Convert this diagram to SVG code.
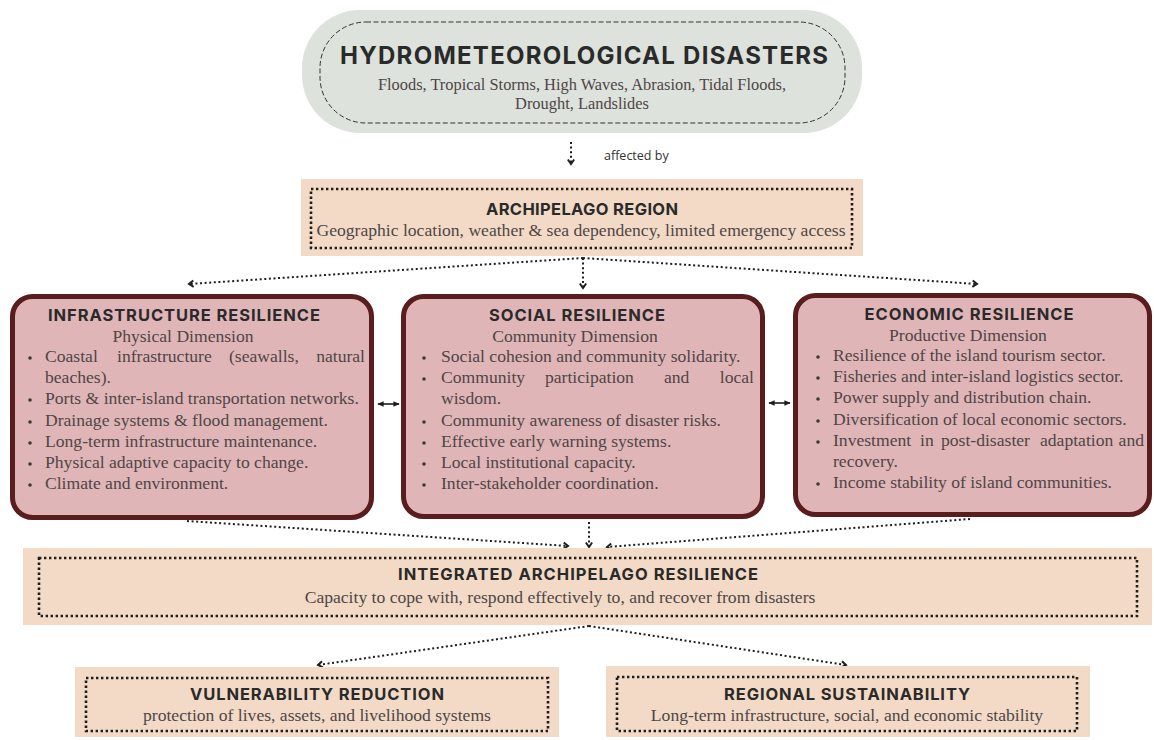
<svg xmlns="http://www.w3.org/2000/svg" width="1154" height="740" viewBox="0 0 1154 740">
<defs>
<style>
.h{font-family:Inter,"Open Sans","Liberation Sans",sans-serif;font-weight:700;fill:#2a2a2a;text-anchor:middle;font-size:16.5px}
.s{font-family:"Liberation Serif","DejaVu Serif",serif;fill:#4e4646;font-size:17.6px}
.c{text-anchor:middle}
.e{text-anchor:end}
.peach{fill:#f2dac6}
.dotb{fill:none;stroke:#1e1e1e;stroke-width:2.6;stroke-dasharray:2.4 2.6}
.res{fill:#e0b5b7;stroke:#5a1d1d;stroke-width:5}
.dl{fill:none;stroke:#1e1e1e;stroke-width:2;stroke-dasharray:2 2.6;marker-end:url(#chev)}
.dbl{stroke:#1e1e1e;stroke-width:1.6;marker-start:url(#tri);marker-end:url(#tri)}
.bul{fill:#3a3a3a}
</style>
<marker id="chev" viewBox="0 0 10 10" refX="7" refY="5" markerWidth="9" markerHeight="9" markerUnits="userSpaceOnUse" orient="auto">
<path d="M2,1.5 L7,5 L2,8.5" fill="none" stroke="#1e1e1e" stroke-width="2.2"/>
</marker>
<marker id="tri" viewBox="0 0 10 10" refX="8" refY="5" markerWidth="7" markerHeight="7" markerUnits="userSpaceOnUse" orient="auto-start-reverse">
<path d="M0,1 L9,5 L0,9 z" fill="#1e1e1e"/>
</marker>
</defs>
<rect width="1154" height="740" fill="#ffffff"/>

<g id="connectors">
<path class="dl" d="M571,142 L571,164"/>
<text x="604" y="160" style="font-family:'Open Sans','Liberation Sans',sans-serif;font-size:12.5px;fill:#333">affected by</text>
<path class="dl" d="M583,258 L189,284"/>
<path class="dl" d="M583,258 L583,288"/>
<path class="dl" d="M583,258 L977,284"/>
<line class="dbl" x1="378" y1="404" x2="399" y2="404"/>
<line class="dbl" x1="769" y1="403" x2="790" y2="403"/>
<path class="dl" d="M187,521 L568,546"/>
<path class="dl" d="M589,522 L589,547"/>
<path class="dl" d="M970,519 L607,547"/>
<path class="dl" d="M589,626 L318,665"/>
<path class="dl" d="M589,626 L846,665"/>
</g>

<g id="hydro">
<rect x="302" y="10" width="560" height="123" rx="58" fill="#dde2dc"/>
<rect x="320" y="22" width="525" height="101" rx="46" fill="none" stroke="#333" stroke-width="1" stroke-dasharray="5 2.5"/>
<text class="h" x="584" y="64" style="font-size:24px" textLength="488">HYDROMETEOROLOGICAL DISASTERS</text>
<text class="s c" x="582" y="90" style="font-size:16.4px">Floods, Tropical Storms, High Waves, Abrasion, Tidal Floods,</text>
<text class="s c" x="582" y="109" style="font-size:16.4px">Drought, Landslides</text>
</g>

<g id="archipelago">
<rect class="peach" x="301" y="179" width="562" height="77"/>
<rect class="dotb" x="311" y="189" width="541" height="59"/>
<text class="h" x="582" y="215" textLength="192">ARCHIPELAGO REGION</text>
<text class="s c" x="581" y="236">Geographic location, weather &amp; sea dependency, limited emergency access</text>
</g>

<g id="infrastructure">
<rect class="res" x="12.5" y="296.5" width="359" height="221" rx="20"/>
<text class="h" x="184" y="321" textLength="272">INFRASTRUCTURE RESILIENCE</text>
<text class="s c" x="183" y="342">Physical Dimension</text>
<g class="bul"><circle cx="30" cy="358" r="1.8"/><circle cx="30" cy="400" r="1.8"/><circle cx="30" cy="422" r="1.8"/><circle cx="30" cy="443" r="1.8"/><circle cx="30" cy="464" r="1.8"/><circle cx="30" cy="485" r="1.8"/></g>
<text class="s" y="362"><tspan x="45">Coastal</tspan><tspan x="117">infrastructure</tspan><tspan x="229">(seawalls,</tspan></text>
<text class="s e" x="365" y="362">natural</text>
<text class="s" x="45" y="383">beaches).</text>
<text class="s" x="45" y="404">Ports &amp; inter-island transportation networks.</text>
<text class="s" x="45" y="426">Drainage systems &amp; flood management.</text>
<text class="s" x="45" y="447">Long-term infrastructure maintenance.</text>
<text class="s" x="45" y="468">Physical adaptive capacity to change.</text>
<text class="s" x="45" y="489">Climate and environment.</text>
</g>

<g id="social">
<rect class="res" x="403.5" y="296.5" width="359" height="220" rx="20"/>
<text class="h" x="577" y="321" textLength="176">SOCIAL RESILIENCE</text>
<text class="s c" x="575" y="342">Community Dimension</text>
<g class="bul"><circle cx="424" cy="358" r="1.8"/><circle cx="424" cy="379" r="1.8"/><circle cx="424" cy="422" r="1.8"/><circle cx="424" cy="443" r="1.8"/><circle cx="424" cy="464" r="1.8"/><circle cx="424" cy="485" r="1.8"/></g>
<text class="s" x="441" y="362">Social cohesion and community solidarity.</text>
<text class="s" y="383"><tspan x="441">Community</tspan><tspan x="545">participation</tspan><tspan x="664">and</tspan></text>
<text class="s e" x="754" y="383">local</text>
<text class="s" x="441" y="404">wisdom.</text>
<text class="s" x="441" y="426">Community awareness of disaster risks.</text>
<text class="s" x="441" y="447">Effective early warning systems.</text>
<text class="s" x="441" y="468">Local institutional capacity.</text>
<text class="s" x="441" y="489">Inter-stakeholder coordination.</text>
</g>

<g id="economic">
<rect class="res" x="795.5" y="295.5" width="354" height="219" rx="20"/>
<text class="h" x="969" y="320" textLength="209">ECONOMIC RESILIENCE</text>
<text class="s c" x="968" y="341">Productive Dimension</text>
<g class="bul"><circle cx="818" cy="357" r="1.8"/><circle cx="818" cy="378" r="1.8"/><circle cx="818" cy="399" r="1.8"/><circle cx="818" cy="421" r="1.8"/><circle cx="818" cy="442" r="1.8"/><circle cx="818" cy="484" r="1.8"/></g>
<text class="s" x="833" y="361">Resilience of the island tourism sector.</text>
<text class="s" x="833" y="382">Fisheries and inter-island logistics sector.</text>
<text class="s" x="833" y="403">Power supply and distribution chain.</text>
<text class="s" x="833" y="425">Diversification of local economic sectors.</text>
<text class="s" y="446"><tspan x="833">Investment</tspan><tspan x="920">in</tspan><tspan x="941">post-disaster</tspan><tspan x="1040">adaptation</tspan></text>
<text class="s e" x="1144" y="446">and</text>
<text class="s" x="833" y="467">recovery.</text>
<text class="s" x="833" y="488">Income stability of island communities.</text>
</g>

<g id="integrated">
<rect class="peach" x="23" y="548" width="1129" height="77"/>
<rect class="dotb" x="39" y="558" width="1098" height="58"/>
<text class="h" x="578" y="580" textLength="360">INTEGRATED ARCHIPELAGO RESILIENCE</text>
<text class="s c" x="560" y="603">Capacity to cope with, respond effectively to, and recover from disasters</text>
</g>

<g id="vulnerability">
<rect class="peach" x="75" y="667" width="484" height="70"/>
<rect class="dotb" x="86" y="678" width="462" height="53"/>
<text class="h" x="317" y="700" textLength="254">VULNERABILITY REDUCTION</text>
<text class="s c" x="317" y="721">protection of lives, assets, and livelihood systems</text>
</g>

<g id="sustainability">
<rect class="peach" x="606" y="666" width="484" height="71"/>
<rect class="dotb" x="617" y="677" width="460" height="54"/>
<text class="h" x="847" y="700" textLength="246">REGIONAL SUSTAINABILITY</text>
<text class="s c" x="847" y="721">Long-term infrastructure, social, and economic stability</text>
</g>
</svg>
